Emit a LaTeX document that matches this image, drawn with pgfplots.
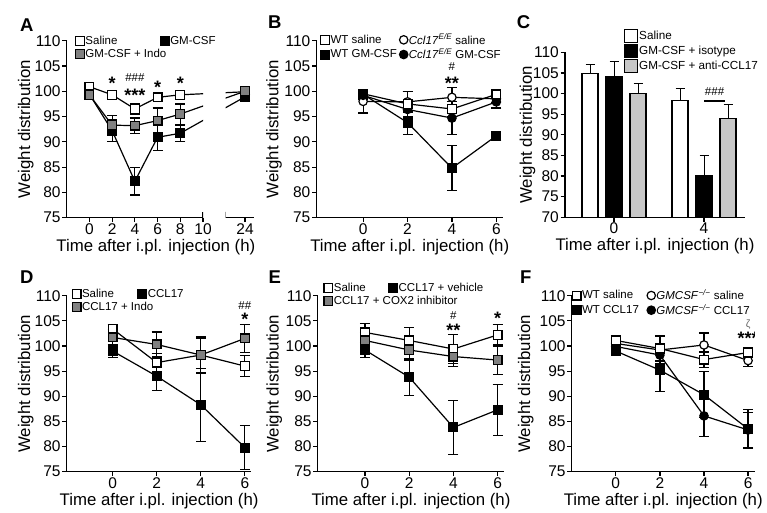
\documentclass[border=0pt]{standalone}
\usepackage{fontspec}
\setmainfont{Liberation Sans}
\usepackage{pgfplots}
\pgfplotsset{compat=1.18}
\usetikzlibrary{calc}
\definecolor{mgray}{gray}{0.5}
\definecolor{lgray}{gray}{0.78}
\newcommand\ticksize{\fontsize{15.5}{17}\selectfont}
\newcommand\labsize{\fontsize{16.8}{18}\selectfont}
\newcommand\legsize{\fontsize{11.5}{13}\selectfont}
\newcommand\starsize{\fontsize{18}{18}\selectfont\bfseries}
\newcommand\hashsize{\fontsize{11.5}{12}\selectfont}
\newcommand\lettersize{\fontsize{18.5}{19}\selectfont\bfseries}
\tikzset{
  sig/.style={font=\starsize, inner sep=0pt, yshift=-1.5pt},
  hsh/.style={font=\hashsize, inner sep=0pt},
}
\pgfplotsset{
  base/.style={
    scale only axis, axis lines*=left, enlargelimits=false,
    axis line style={line width=1.2pt, black},
    every tick/.append style={line width=1.2pt, black},
    tick align=outside, major tick length=4.5pt,
    tick label style={font=\ticksize},
    /pgf/number format/assume math mode=true,
    xticklabel style={inner sep=1pt},
    yticklabel style={inner sep=1.5pt},
    label style={font=\labsize},
    xlabel={Time after i.pl. injection (h)},
    ylabel={Weight distribution},
    xlabel style={at={(axis description cs:0.5,0)}, anchor=center, yshift=-29pt},
    ymin=75, ymax=110, ytick={75,80,...,110},
    legend style={draw=none, fill=none, font=\legsize, inner sep=0pt, outer sep=0pt,
      row sep=1pt, anchor=north west, nodes={inner sep=1pt}},
    legend cell align=left,
    legend image code/.code={\draw[mark repeat=1,##1] plot coordinates {(5pt,0pt)};},
  },
  ylab/.style={ylabel style={at={($(axis description cs:0,0.5)+(-#1,0pt)$)}, anchor=center}},
  ln/.style={black, line width=1.2pt, error bars/y dir=both, error bars/y explicit,
    error bars/error bar style={line width=1.2pt, black, solid},
    error bars/error mark options={rotate=90, black, line width=1.2pt, mark size=5pt}},
  wsq/.style={mark=square*, mark size=4.4pt, mark options={fill=white, draw=black, solid}},
  bsq/.style={mark=square*, mark size=4.4pt, mark options={fill=black, draw=black, solid}},
  gsq/.style={mark=square*, mark size=4.4pt, mark options={fill=mgray, draw=black, solid}},
  wci/.style={mark=*, mark size=4.2pt, mark options={fill=white, draw=black, solid}},
  bci/.style={mark=*, mark size=4.2pt, mark options={fill=black, draw=black, solid}},
  lg/.style={only marks, black, line width=1.2pt},
  barleg/.style={legend image code/.code={\draw[##1] (0pt,-6.5pt) rectangle (13pt,6.5pt);}},
  bars/.style={ybar, bar width=16pt, draw=black, line width=1.2pt, mark size=4.5pt, barleg,
    error bars/y dir=plus, error bars/y explicit},
  brk/.style={x coord trafo/.code={\pgfmathparse{##1>=20 ? ##1-10.3 : ##1}},
    x coord inv trafo/.code={\pgfmathparse{##1>=12 ? ##1+10.3 : ##1}}},
}
\begin{document}
\begin{tikzpicture}
\path[use as bounding box] (0pt,0pt) rectangle (767pt,513pt);

% ---------------- A (main segment) ----------------
\begin{axis}[base, brk, ylab=41pt, at={(66.7pt,295.3pt)}, anchor=south west,
  width=136.3pt, height=177pt, xmin=-2, xmax=10, xtick={0,2,4,6,8,10},
  clip marker paths=true, xlabel style={xshift=21pt},
  legend columns=2, legend style={at={(0.066,1.032)}}]
\addlegendimage{lg, wsq}\addlegendentry{\makebox[74pt][l]{Saline}}
\addlegendimage{lg, bsq}\addlegendentry{GM-CSF}
\addlegendimage{lg, gsq}\addlegendentry{\makebox[0pt][l]{GM-CSF + Indo}}
\addplot[ln, wsq, forget plot] table[x=x, y=y, y error=e] {
x y e
0 100.9 0.6
2 99.3 0.6
4 96.5 1.0
6 98.8 0.8
8 99.3 0.8
24 99.9 0.5
};
\addplot[ln, bsq, forget plot] table[x=x, y=y, y error=e] {
x y e
0 99.4 1.0
2 92.2 2.2
4 82.2 2.7
6 90.9 2.6
8 91.7 1.6
24 98.9 0.8
};
\addplot[ln, gsq, forget plot] table[x=x, y=y, y error=e] {
x y e
0 99.3 1.0
2 93.3 1.9
4 93.2 1.5
6 94.2 2.5
8 95.5 2.0
24 100.0 0.6
};
\node[sig] at (axis cs:2,101.8) {*};
\node[hsh] at (axis cs:4,102.8) {\#\#\#};
\node[sig] at (axis cs:4,99.4) {***};
\node[sig] at (axis cs:6,101.1) {*};
\node[sig] at (axis cs:8,101.8) {*};
\draw[line width=1.2pt] (rel axis cs:1,0) -- ++(0pt,6pt);
\end{axis}

% ---------------- A (24 h segment) ----------------
\begin{axis}[base, brk, at={(225.7pt,295.3pt)}, anchor=south west,
  width=28.4pt, height=177pt, xmin=22.3, xmax=24.8, xtick={24}, xticklabels={24},
  axis y line=none, axis x line*=bottom, xlabel={}, ylabel={}, clip marker paths=true]
\addplot[ln, wsq] table[x=x, y=y, y error=e] {
x y e
8 99.3 0.8
24 99.9 0.5
};
\addplot[ln, bsq] table[x=x, y=y, y error=e] {
x y e
8 91.7 1.6
24 98.9 0.8
};
\addplot[ln, gsq] table[x=x, y=y, y error=e] {
x y e
8 95.5 2.0
24 100.0 0.6
};
\draw[line width=1.2pt] (rel axis cs:0,0) ++(0pt,6pt) -- ++(0pt,-10.5pt);
\end{axis}

% ---------------- B ----------------
\begin{axis}[base, ylab=42.5pt, at={(316.5pt,295.3pt)}, anchor=south west,
  width=186.5pt, height=177pt, xmin=-2.1, xmax=6.3, xtick={0,2,4,6},
  legend columns=2, legend style={at={(0.0225,1.0435)}}]
\addlegendimage{lg, wsq}\addlegendentry{WT saline}
\addlegendimage{lg, wci}\addlegendentry{\textit{Ccl17}\textsuperscript{\textit{E/E}} saline}
\addlegendimage{lg, bsq}\addlegendentry{\makebox[68pt][l]{WT GM-CSF}}
\addlegendimage{lg, bci}\addlegendentry{\textit{Ccl17}\textsuperscript{\textit{E/E}} GM-CSF}
\addplot[ln, wci, forget plot] table[x=x, y=y, y error=e] {
x y e
0 98.0 2.3
2 97.9 2.0
4 98.8 1.9
6 98.5 0.8
};
\addplot[ln, bci, forget plot] table[x=x, y=y, y error=e] {
x y e
0 99.2 0.8
2 96.4 1.5
4 94.7 3.3
6 97.9 1.2
};
\addplot[ln, wsq, forget plot] table[x=x, y=y, y error=e] {
x y e
0 99.5 0.8
2 97.5 2.5
4 96.5 1.5
6 99.4 0.8
};
\addplot[ln, bsq, forget plot] table[x=x, y=y, y error=e] {
x y e
0 99.4 1.0
2 93.8 2.3
4 84.8 4.5
6 91.2 0.9
};
\node[hsh] at (axis cs:4,104.8) {\#};
\node[sig] at (axis cs:4,101.9) {**};
\end{axis}

% ---------------- C ----------------
\begin{axis}[base, ylab=37.5pt, at={(565pt,295.7pt)}, anchor=south west,
  width=180pt, height=165pt, ymin=70, ymax=110, ytick={70,75,...,110},
  xmin=-2.178, xmax=5.822, xtick={0,4},
  legend style={at={(0.328,1.144)}, row sep=0.8pt, font=\fontsize{11.7}{13}\selectfont}]
\addplot[bars, fill=white, bar shift=-24pt, error bars/error bar style={xshift=-24pt}]
  table[x=x, y=y, y error=e] {
x y e
0 104.9 2.3
4 98.4 2.8
};
\addlegendentry{Saline}
\addplot[bars, fill=black, bar shift=0pt] table[x=x, y=y, y error=e] {
x y e
0 104.2 3.6
4 80.2 4.8
};
\addlegendentry{GM-CSF + isotype}
\addplot[bars, fill=lgray, bar shift=24pt, error bars/error bar style={xshift=24pt}]
  table[x=x, y=y, y error=e] {
x y e
0 100.0 2.4
4 93.9 3.6
};
\addlegendentry{GM-CSF + anti-CCL17}
\draw[line width=1.2pt] (axis cs:4.0,98.2) -- (axis cs:4.93,98.2);
\node[hsh] at (axis cs:4.47,100.5) {\#\#\#};
\end{axis}

% ---------------- D ----------------
\begin{axis}[base, ylab=41pt, at={(66.7pt,41.3pt)}, anchor=south west,
  width=184.8pt, height=176pt, xmin=-2.08, xmax=6.3, xtick={0,2,4,6},
  legend columns=2, legend style={at={(0.030,1.042)}}]
\addlegendimage{lg, wsq}\addlegendentry{\makebox[55pt][l]{Saline}}
\addlegendimage{lg, bsq}\addlegendentry{CCL17}
\addlegendimage{lg, gsq}\addlegendentry{\makebox[0pt][l]{CCL17 + Indo}}
\addplot[ln, wsq, forget plot] table[x=x, y=y, y error=e] {
x y e
0 103.4 0.8
2 96.7 1.8
4 98.2 3.6
6 96.0 2.1
};
\addplot[ln, bsq, forget plot] table[x=x, y=y, y error=e] {
x y e
0 99.0 1.3
2 94.0 2.9
4 88.3 7.3
6 79.8 4.4
};
\addplot[ln, gsq, forget plot] table[x=x, y=y, y error=e] {
x y e
0 101.7 1.6
2 100.3 2.5
4 98.2 3.4
6 101.5 2.8
};
\node[hsh] at (axis cs:6,108.0) {\#\#};
\node[sig] at (axis cs:6,105.6) {*};
\end{axis}

% ---------------- E ----------------
\begin{axis}[base, ylab=43.5pt, at={(317.7pt,41.3pt)}, anchor=south west,
  width=186.5pt, height=176pt, xmin=-2.14, xmax=6.3, xtick={0,2,4,6},
  legend columns=2, legend style={at={(0.034,1.076)}}]
\addlegendimage{lg, wsq}\addlegendentry{\makebox[54pt][l]{Saline}}
\addlegendimage{lg, bsq}\addlegendentry{CCL17 + vehicle}
\addlegendimage{lg, gsq}\addlegendentry{\makebox[0pt][l]{CCL17 + COX2 inhibitor}}
\addplot[ln, wsq, forget plot] table[x=x, y=y, y error=e] {
x y e
0 102.7 1.8
2 101.1 2.6
4 99.4 2.9
6 102.2 2.0
};
\addplot[ln, bsq, forget plot] table[x=x, y=y, y error=e] {
x y e
0 99.2 1.5
2 93.8 3.6
4 83.8 5.3
6 87.3 5.1
};
\addplot[ln, gsq, forget plot] table[x=x, y=y, y error=e] {
x y e
0 101.1 1.5
2 99.2 2.0
4 97.9 2.0
6 97.2 2.8
};
\node[hsh] at (axis cs:4,106.0) {\#};
\node[sig] at (axis cs:4,103.4) {**};
\node[sig] at (axis cs:6,105.8) {*};
\end{axis}

% ---------------- F ----------------
\begin{axis}[base, ylab=46pt, at={(571.7pt,41.3pt)}, anchor=south west,
  width=183pt, height=176pt, xmin=-2.0, xmax=6.3, xtick={0,2,4,6},
  legend columns=2, legend style={at={(0.003,1.040)}}]
\addlegendimage{lg, wsq}\addlegendentry{WT saline}
\addlegendimage{lg, wci}\addlegendentry{\textit{GMCSF}\textsuperscript{\textit{−/−}} saline}
\addlegendimage{lg, bsq}\addlegendentry{\makebox[64pt][l]{WT CCL17}}
\addlegendimage{lg, bci}\addlegendentry{\textit{GMCSF}\textsuperscript{\textit{−/−}} CCL17}
\addplot[ln, wci, forget plot] table[x=x, y=y, y error=e] {
x y e
0 100.5 1.0
2 99.2 2.8
4 100.2 2.4
6 97.1 1.2
};
\addplot[ln, bci, forget plot] table[x=x, y=y, y error=e] {
x y e
0 99.9 0.8
2 98.2 1.2
4 86.1 4.1
6 83.3 3.5
};
\addplot[ln, bsq, forget plot] table[x=x, y=y, y error=e] {
x y e
0 99.0 0.8
2 95.2 4.3
4 90.3 4.6
6 83.5 3.8
};
\addplot[ln, wsq, forget plot] table[x=x, y=y, y error=e] {
x y e
0 101.1 0.9
2 99.5 1.0
4 97.3 1.5
6 98.7 1.0
};
\node[hsh, text=black!60, font=\fontsize{10.5}{11}\selectfont] at (axis cs:6,104.3) {ζ};
\node[sig] at (axis cs:6,101.9) {***};
\end{axis}

% panel letters
\node[anchor=base west, inner sep=0pt, font=\lettersize] at (20pt,481pt) {A};
\node[anchor=base west, inner sep=0pt, font=\lettersize] at (268pt,484.7pt) {B};
\node[anchor=base west, inner sep=0pt, font=\lettersize] at (516.7pt,484.7pt) {C};
\node[anchor=base west, inner sep=0pt, font=\lettersize] at (20pt,229.7pt) {D};
\node[anchor=base west, inner sep=0pt, font=\lettersize] at (268.3pt,229.7pt) {E};
\node[anchor=base west, inner sep=0pt, font=\lettersize] at (520pt,229.7pt) {F};
\end{tikzpicture}
\end{document}
